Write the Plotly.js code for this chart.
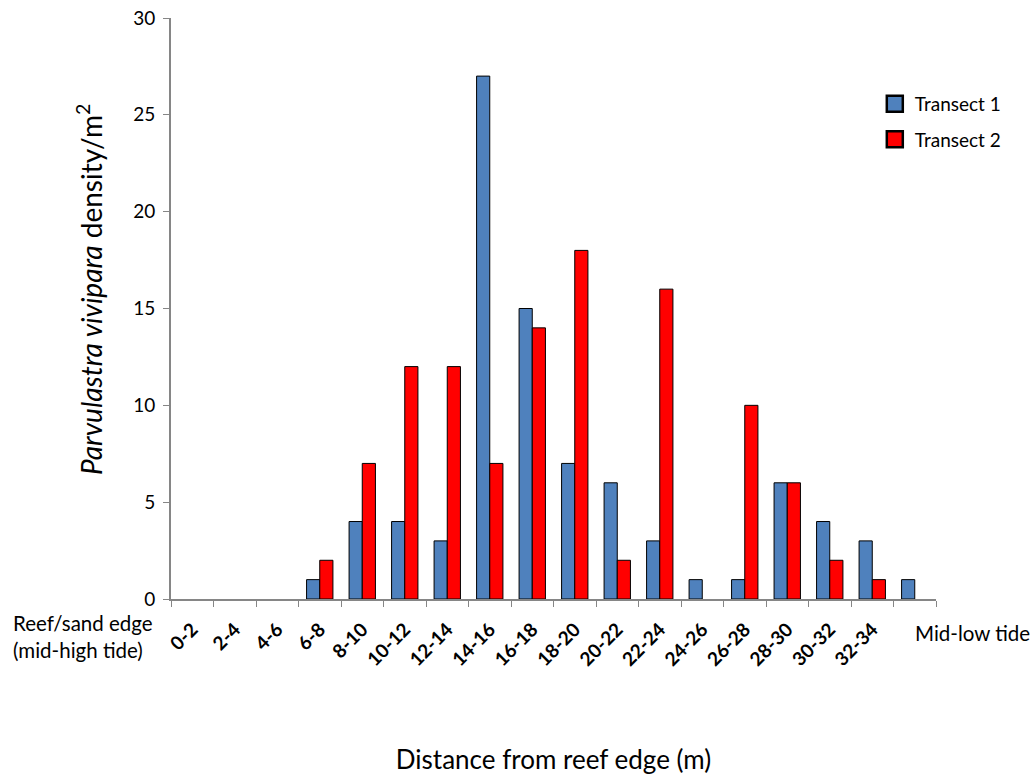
<!DOCTYPE html>
<html>
<head>
<meta charset="utf-8">
<script src="https://cdn.plot.ly/plotly-3.0.1.min.js"></script>
<style>html,body{margin:0;padding:0;background:#fff;}#chart{width:1036px;height:775px;}</style>
</head>
<body>
<div id="chart"></div>
<script>
const categories = ["0-2","2-4","4-6","6-8","8-10","10-12","12-14","14-16","16-18","18-20","20-22","22-24","24-26","26-28","28-30","30-32","32-34","34-36"];
const tickLabels = ["0-2","2-4","4-6","6-8","8-10","10-12","12-14","14-16","16-18","18-20","20-22","22-24","24-26","26-28","28-30","30-32","32-34",""];
const transect1 = [0,0,0,1,4,4,3,27,15,7,6,3,1,1,6,4,3,1];
const transect2 = [0,0,0,2,7,12,12,7,14,18,2,16,0,10,6,2,1,0];
const seriesNames = ["Transect 1","Transect 2"];
const seriesColors = ["#4F81BD","#FF0000"];

const FONT = "Lato, 'Open Sans', sans-serif";
const hideZero = arr => arr.map(v => v === 0 ? null : v);

const data = [
  {type:"bar", name:seriesNames[0], x:categories, y:hideZero(transect1), showlegend:false,
   marker:{color:seriesColors[0], line:{color:"#000", width:1}}},
  {type:"bar", name:seriesNames[1], x:categories, y:hideZero(transect2), showlegend:false,
   marker:{color:seriesColors[1], line:{color:"#000", width:1}}},
  {type:"scatter", mode:"markers", name:seriesNames[0], legendgroup:"t1", x:[null], y:[null],
   marker:{symbol:"square", size:16, color:seriesColors[0], line:{color:"#000", width:2.5}}},
  {type:"scatter", mode:"markers", name:seriesNames[1], legendgroup:"t2", x:[null], y:[null],
   marker:{symbol:"square", size:16, color:seriesColors[1], line:{color:"#000", width:2.5}}}
];

const layout = {
  width:1036, height:775,
  margin:{l:171, r:100, t:18, b:176},
  paper_bgcolor:"#fff", plot_bgcolor:"#fff",
  font:{family:FONT, color:"#000"},
  barmode:"group", bargap:0.38, bargroupgap:0,
  showlegend:true,
  legend:{x:0.92, y:0.885, xanchor:"left", yanchor:"top", font:{size:19, family:FONT},
          bgcolor:"rgba(0,0,0,0)", tracegroupgap:8, itemwidth:30},
  xaxis:{
    type:"category", tickmode:"array", tickvals:categories, ticktext:tickLabels,
    tickangle:-45, tickson:"boundaries", ticks:"outside", ticklen:6, tickcolor:"#868686",
    showline:true, linecolor:"#868686", linewidth:2, showgrid:false, zeroline:false,
    tickfont:{size:19, family:FONT, color:"#000", weight:"bold"}, ticklabelstandoff:10,
    title:{text:"Distance from reef edge (m)", font:{size:26, family:FONT}, standoff:90},
    automargin:false
  },
  yaxis:{
    range:[0,30], tickvals:[0,5,10,15,20,25,30], ticks:"outside", ticklen:6, tickcolor:"#868686",
    showline:true, linecolor:"#868686", linewidth:2, showgrid:false, zeroline:false,
    tickfont:{size:19, family:FONT, color:"#000"}, ticklabelstandoff:4,
    automargin:false
  },
  annotations:[
    {xref:"paper", yref:"paper", x:-0.106, y:0.5336, xanchor:"center", yanchor:"middle", textangle:-90,
     text:"<i>Parvulastra vivipara</i> density/m<sup>2</sup>", showarrow:false, font:{size:28, family:FONT}},
    {xref:"paper", yref:"paper", x:-0.021, y:-0.018, xanchor:"right", yanchor:"top", align:"left",
     text:"Reef/sand edge<br>(mid-high tide)", showarrow:false, font:{size:20.5, family:FONT}},
    {xref:"paper", yref:"paper", x:0.97, y:-0.035, xanchor:"left", yanchor:"top", align:"left",
     text:"Mid-low tide", showarrow:false, font:{size:20.5, family:FONT}}
  ]
};

Plotly.newPlot("chart", data, layout, {displayModeBar:false, staticPlot:true});
</script>
</body>
</html>
